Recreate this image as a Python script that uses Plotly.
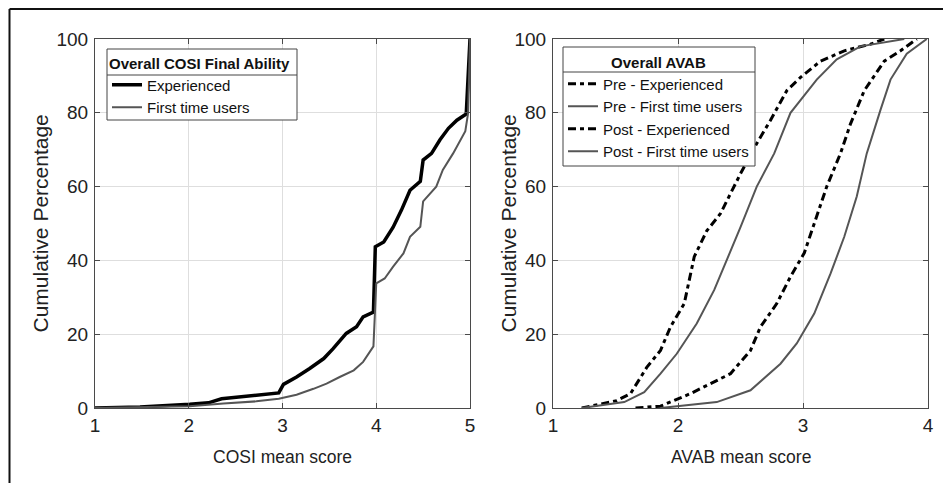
import plotly.graph_objects as go

# ---- Data ----
cosi_exp_x = [1.0, 1.48, 2.01, 2.21, 2.35, 2.55, 2.80, 2.96, 3.01, 3.15, 3.29, 3.44, 3.54, 3.68, 3.79, 3.86, 3.97, 3.99, 4.08, 4.18, 4.27, 4.36, 4.47, 4.50, 4.59, 4.68, 4.77, 4.86, 4.96, 5.0]
cosi_exp_y = [0.0, 0.3, 1.0, 1.4, 2.5, 3.0, 3.6, 4.1, 6.4, 8.4, 10.7, 13.4, 16.1, 20.2, 22.0, 24.7, 26.0, 43.7, 45.0, 49.0, 53.7, 59.0, 61.4, 67.2, 69.0, 72.7, 75.8, 78.0, 79.7, 100.0]

cosi_first_x = [1.0, 2.01, 2.37, 2.72, 2.96, 3.15, 3.33, 3.47, 3.61, 3.76, 3.86, 3.97, 4.00, 4.09, 4.18, 4.29, 4.36, 4.47, 4.50, 4.64, 4.71, 4.82, 4.95, 4.98, 5.0]
cosi_first_y = [0.0, 0.5, 1.2, 1.8, 2.5, 3.6, 5.2, 6.6, 8.4, 10.2, 12.5, 16.7, 33.8, 35.1, 38.3, 41.9, 46.4, 49.1, 56.0, 60.0, 64.5, 69.0, 75.0, 80.0, 100.0]

pre_exp_x = [1.23, 1.51, 1.62, 1.75, 1.86, 1.94, 2.05, 2.13, 2.23, 2.34, 2.50, 2.63, 2.74, 2.87, 2.98, 3.14, 3.33, 3.54, 3.65]
pre_exp_y = [0.0, 2.0, 3.9, 11.0, 15.6, 22.0, 28.3, 41.0, 48.0, 52.7, 63.5, 71.7, 78.0, 86.0, 89.6, 94.0, 96.8, 98.6, 100.0]

pre_first_x = [1.23, 1.57, 1.73, 1.86, 1.99, 2.15, 2.29, 2.39, 2.50, 2.63, 2.77, 2.90, 3.11, 3.27, 3.46, 3.81]
pre_first_y = [0.0, 1.6, 4.3, 9.3, 14.7, 22.9, 32.0, 40.0, 49.0, 60.0, 69.0, 80.0, 89.0, 94.5, 98.0, 100.0]

post_exp_x = [1.66, 1.86, 2.10, 2.42, 2.58, 2.66, 2.79, 2.90, 3.01, 3.11, 3.19, 3.30, 3.38, 3.49, 3.65, 3.78, 3.91]
post_exp_y = [0.0, 0.5, 3.9, 9.3, 15.6, 22.0, 28.3, 35.6, 42.0, 52.0, 60.0, 69.0, 77.0, 86.0, 94.0, 96.8, 100.0]

post_first_x = [1.86, 2.31, 2.58, 2.82, 2.95, 3.09, 3.22, 3.33, 3.43, 3.51, 3.62, 3.70, 3.83, 3.99]
post_first_y = [0.0, 1.6, 4.8, 12.0, 17.5, 25.6, 36.4, 46.4, 57.3, 69.0, 80.8, 89.0, 96.0, 100.0]

left_ticks_x = [1, 2, 3, 4, 5]
right_ticks_x = [1, 2, 3, 4]
ticks_y = [0, 20, 40, 60, 80, 100]

# ---- Styling ----
W, H = 943, 483
FONT = "Liberation Sans, Arial, sans-serif"
BLACK = "#000000"
GRAY = "#555555"
AXC = "#4a4a4a"
TXT = "#222222"
LEGC = "#444444"

fig = go.Figure()

fig.add_trace(go.Scatter(x=cosi_exp_x, y=cosi_exp_y, mode="lines", name="Experienced",
                         line=dict(color=BLACK, width=3.5), xaxis="x", yaxis="y", legend="legend"))
fig.add_trace(go.Scatter(x=cosi_first_x, y=cosi_first_y, mode="lines", name="First time users",
                         line=dict(color=GRAY, width=2), xaxis="x", yaxis="y", legend="legend"))

fig.add_trace(go.Scatter(x=pre_exp_x, y=pre_exp_y, mode="lines", name="Pre - Experienced",
                         line=dict(color=BLACK, width=3, dash="8px,4px,4px,4px"), xaxis="x2", yaxis="y2", legend="legend2"))
fig.add_trace(go.Scatter(x=pre_first_x, y=pre_first_y, mode="lines", name="Pre - First time users",
                         line=dict(color=GRAY, width=2), xaxis="x2", yaxis="y2", legend="legend2"))
fig.add_trace(go.Scatter(x=post_exp_x, y=post_exp_y, mode="lines", name="Post - Experienced",
                         line=dict(color=BLACK, width=3, dash="8px,4px,4px,4px"), xaxis="x2", yaxis="y2", legend="legend2"))
fig.add_trace(go.Scatter(x=post_first_x, y=post_first_y, mode="lines", name="Post - First time users",
                         line=dict(color=GRAY, width=2), xaxis="x2", yaxis="y2", legend="legend2"))

# plot-area pixel boxes (page coordinates)
L1 = (95, 470)
L2 = (553, 928)
TOP, BOT = 39, 408

def px_x(p):
    return p / W

def px_y(p):
    return 1 - p / H

ydom = [px_y(BOT), px_y(TOP)]

common_axis = dict(showline=True, linecolor=AXC, linewidth=1, mirror="ticks",
                   ticks="inside", ticklen=5, tickcolor=AXC, automargin=False,
                   showgrid=True, gridcolor="#dedede", gridwidth=1, zeroline=False,
                   tickfont=dict(family=FONT, size=19, color=TXT))

LEG_FONT = dict(family=FONT, size=15, color="#111111")

fig.update_layout(
    template="none",
    width=W, height=H, autosize=False,
    margin=dict(l=0, r=0, t=0, b=0, pad=0),
    paper_bgcolor="white", plot_bgcolor="white",
    font=dict(family=FONT, color=TXT),
    xaxis=dict(domain=[px_x(L1[0]), px_x(L1[1])], range=[1, 5], tickvals=left_ticks_x, anchor="y", **common_axis),
    yaxis=dict(domain=ydom, range=[0, 100], tickvals=ticks_y, anchor="x", ticklabelstandoff=2, **common_axis),
    xaxis2=dict(domain=[px_x(L2[0]), px_x(L2[1])], range=[1, 4], tickvals=right_ticks_x, anchor="y2", **common_axis),
    yaxis2=dict(domain=ydom, range=[0, 100], tickvals=ticks_y, anchor="x2", ticklabelstandoff=2, **common_axis),
    legend=dict(x=px_x(107), y=px_y(49), xanchor="left", yanchor="top",
                bgcolor="rgba(0,0,0,0)", borderwidth=0,
                font=LEG_FONT,
                title=dict(text="<b>Overall COSI Final Ability</b>", font=LEG_FONT, side="top center"),
                itemwidth=30, tracegroupgap=0),
    legend2=dict(x=px_x(563), y=px_y(48), xanchor="left", yanchor="top",
                 bgcolor="rgba(0,0,0,0)", borderwidth=0,
                 font=LEG_FONT,
                 title=dict(text="<b>Overall AVAB</b>", font=LEG_FONT, side="top center"),
                 itemwidth=30, tracegroupgap=0),
    showlegend=True,
)

# axis titles as text annotations at the reference positions
XT_FONT = dict(family=FONT, size=17.5, color=TXT)
YT_FONT = dict(family=FONT, size=21, color=TXT)
fig.add_annotation(text="COSI mean score", xref="paper", yref="paper", x=px_x((L1[0] + L1[1]) / 2), y=px_y(457),
                   xanchor="center", yanchor="middle", showarrow=False, font=XT_FONT)
fig.add_annotation(text="AVAB mean score", xref="paper", yref="paper", x=px_x((L2[0] + L2[1]) / 2), y=px_y(457),
                   xanchor="center", yanchor="middle", showarrow=False, font=XT_FONT)
fig.add_annotation(text="Cumulative Percentage", xref="paper", yref="paper", x=px_x(40), y=px_y((TOP + BOT) / 2),
                   xanchor="center", yanchor="middle", textangle=-90, showarrow=False, font=YT_FONT)
fig.add_annotation(text="Cumulative Percentage", xref="paper", yref="paper", x=px_x(508), y=px_y((TOP + BOT) / 2),
                   xanchor="center", yanchor="middle", textangle=-90, showarrow=False, font=YT_FONT)

# legend boxes (white, bordered) with a separator under each legend title
for (bx0, bx1, by0, by1, sep) in [(107, 297, 49, 120, 75), (563, 755, 47, 166, 72)]:
    fig.add_shape(type="rect", xref="paper", yref="paper", layer="above",
                  x0=px_x(bx0), x1=px_x(bx1), y0=px_y(by1), y1=px_y(by0),
                  fillcolor="white", line=dict(color=LEGC, width=1))
    fig.add_shape(type="line", xref="paper", yref="paper", layer="above",
                  x0=px_x(bx0), x1=px_x(bx1), y0=px_y(sep), y1=px_y(sep),
                  line=dict(color=LEGC, width=1))

# outer frame (top and left edges visible in reference)
fig.add_shape(type="line", xref="paper", yref="paper", x0=px_x(9.5), x1=1.0, y0=px_y(9), y1=px_y(9),
              line=dict(color="#111111", width=2))
fig.add_shape(type="line", xref="paper", yref="paper", x0=px_x(9.5), x1=px_x(9.5), y0=px_y(9), y1=0,
              line=dict(color="#111111", width=2))

fig.write_html("out.html")
